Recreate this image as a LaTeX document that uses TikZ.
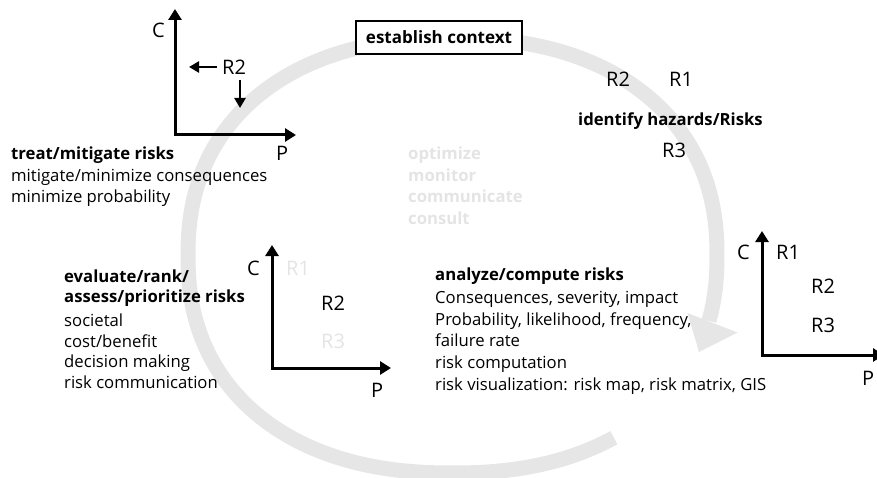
\documentclass[tikz,border=0pt]{standalone}
\usepackage{fontspec}
\setmainfont{Open Sans}
\usetikzlibrary{arrows.meta}
\definecolor{cyclegray}{HTML}{E6E6E6}
\definecolor{faint}{HTML}{E4E4E4}
% rounded-rectangle (superelliptic) loop of the cycle
\newcommand{\cycx}[1]{452.5+264.5*cos(#1)*pow(abs(cos(#1))+0.0001,-0.111)}
\newcommand{\cycy}[1]{255.5+217.5*sin(#1)*pow(abs(sin(#1))+0.0001,-0.111)}
\begin{document}
\begin{tikzpicture}[x=1pt,y=-1pt,
  axis/.style={line width=3pt,line join=miter,
    {Triangle[width=13pt,length=11pt]}-{Triangle[width=13pt,length=11pt]}},
  shiftarrow/.style={line width=2.6pt,-{Triangle[width=11pt,length=10pt]}},
  rlabel/.style={font=\fontsize{20}{24}\selectfont,inner sep=0pt,anchor=base west},
  body/.style={font=\fontsize{16.7}{21}\selectfont,inner sep=0pt,anchor=base west},
  head/.style={body,font=\bfseries\fontsize{16.7}{21}\selectfont},
  faintbold/.style={head,text=faint}]
\useasboundingbox (0,0) rectangle (877,478);

% the risk-management cycle
\draw[cyclegray,line width=15pt,line join=round]
  plot[domain=55:375,samples=220] ({\cycx{\x}},{\cycy{\x}});
\coordinate (headL) at (687.5,313);
\coordinate (headT) at (699,352);
\coordinate (headR) at (737.5,332.5);
\fill[cyclegray] (headL) -- (headT) -- (headR) -- cycle;

% establish context
\node[draw,line width=1.8pt,fill=white,minimum width=166pt,minimum height=33pt,
  inner sep=0pt,font=\bfseries\fontsize{17}{20}\selectfont] (ctx) at (439,37.5) {establish context};

% treat / mitigate: risk moved towards lower C and P
\coordinate (tlC) at (175,9);
\coordinate (tlO) at (175,135);
\coordinate (tlP) at (296,135);
\draw[axis] (tlC) -- (tlO) -- (tlP);
\node[rlabel] (tlCl) at (152,38) {C};
\node[rlabel] (tlPl) at (276,161) {P};
\node[rlabel] (tlR2) at (222,75) {R2};
\coordinate (tlLa) at (217,67);
\coordinate (tlLb) at (189,67);
\draw[shiftarrow] (tlLa) -- (tlLb);
\coordinate (tlDa) at (240,80);
\coordinate (tlDb) at (240,108);
\draw[shiftarrow] (tlDa) -- (tlDb);

\node[head] (tr1) at (11,160) {treat/mitigate risks};
\node[body] (tr2) at (11,182) {mitigate/minimize consequences};
\node[body] (tr3) at (11,203) {minimize probability};

% identify hazards
\node[rlabel] (idR2) at (606,87) {R2};
\node[rlabel] (idR1) at (669,87) {R1};
\node[head] (id1) at (578,126) {identify hazards/Risks};
\node[rlabel] (idR3) at (662,158) {R3};

% continuous activities
\node[faintbold] (ct1) at (408,160) {optimize};
\node[faintbold] (ct2) at (408,182) {monitor};
\node[faintbold] (ct3) at (408,203) {communicate};
\node[faintbold] (ct4) at (408,225) {consult};

% evaluate / rank
\coordinate (mC) at (272,245);
\coordinate (mO) at (272,368);
\coordinate (mP) at (391,368);
\draw[axis] (mC) -- (mO) -- (mP);
\node[rlabel] (mCl) at (247,275) {C};
\node[rlabel,text=faint] (mR1) at (286,275) {R1};
\node[rlabel] (mR2) at (321,310) {R2};
\node[rlabel,text=faint] (mR3) at (321,348) {R3};
\node[rlabel] (mPl) at (371,397) {P};

\node[head] (ev1) at (64,282) {evaluate/rank/};
\node[head] (ev2) at (64,302) {assess/prioritize risks};
\node[body] (ev3) at (64,326) {societal};
\node[body] (ev4) at (64,347) {cost/benefit};
\node[body] (ev5) at (64,367) {decision making};
\node[body] (ev6) at (64,388) {risk communication};

% analyze / compute
\node[head] (an1) at (435,280) {analyze/compute risks};
\node[body] (an2) at (435,303) {Consequences, severity, impact};
\node[body] (an3) at (435,325) {Probability, likelihood, frequency,};
\node[body] (an4) at (435,346) {failure rate};
\node[body] (an5) at (435,368) {risk computation};
\node[body] (an6) at (435,390) {risk visualization: risk map, risk matrix, GIS};

\coordinate (rC) at (762,231);
\coordinate (rO) at (762,355);
\coordinate (rP) at (884,355);
\draw[axis] (rC) -- (rO) -- (rP);
\node[rlabel] (rCl) at (737,259) {C};
\node[rlabel] (rR1) at (776,259) {R1};
\node[rlabel] (rR2) at (811,293) {R2};
\node[rlabel] (rR3) at (811,332) {R3};
\node[rlabel] (rPl) at (862,385) {P};
\end{tikzpicture}
\end{document}
